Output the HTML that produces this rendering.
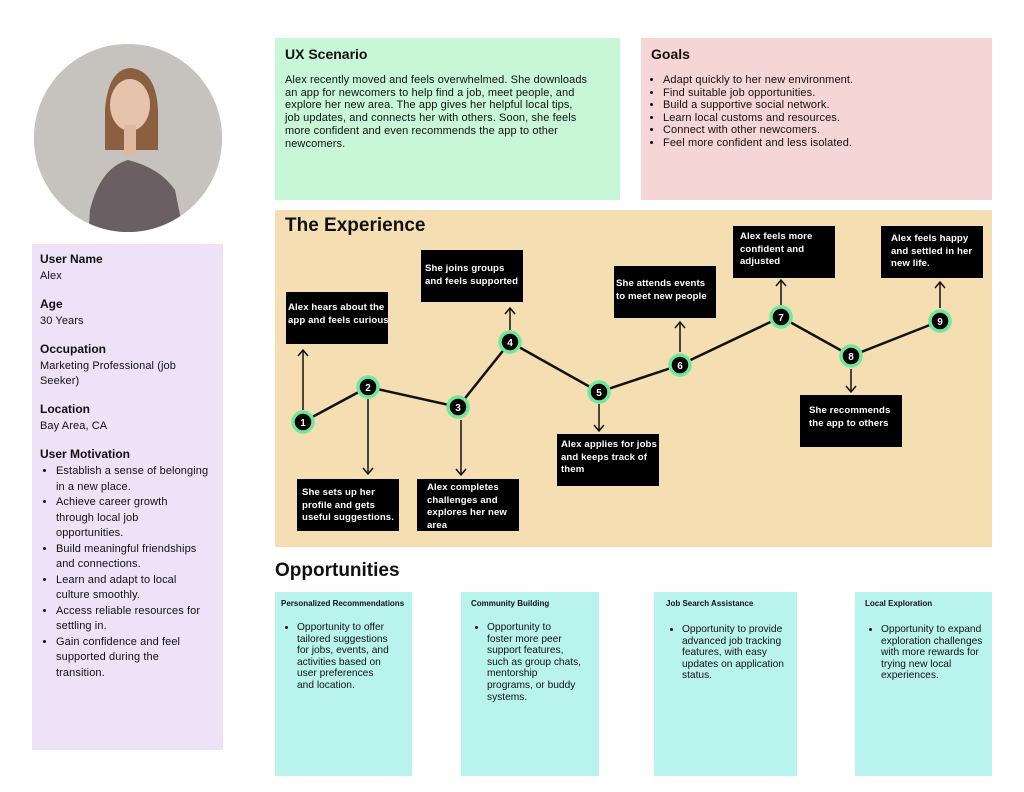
<!DOCTYPE html>
<html><head><meta charset="utf-8"><style>
*{margin:0;padding:0;box-sizing:border-box}
body{width:1024px;height:792px;background:#fff;position:relative;font-family:"Liberation Sans",Arial,sans-serif;color:#111;overflow:hidden}
.a{position:absolute}
.bx{position:absolute;background:#000;color:#fff;font-weight:bold;font-size:9.6px;line-height:12.5px;padding:7px 2px 0 2px;width:102px;height:52px;white-space:nowrap;letter-spacing:0.1px}
h2{font-size:14px;font-weight:bold}
.lp h3{font-size:12px;font-weight:bold}
.lp p{font-size:11px;margin:3px 0 13px 0;line-height:15px;letter-spacing:0.1px}
.lp ul{font-size:11px;line-height:15.5px;padding-left:16px;white-space:nowrap;margin-top:3px;letter-spacing:0.1px}
.op{position:absolute;top:592px;height:184px;background:#b9f3ee;padding:7px 6px}
.op b{font-size:8px;display:block}
.op ul{font-size:10.2px;line-height:11.6px;margin-top:14px;padding-left:16px;white-space:nowrap}
</style></head><body>
<svg class="a" style="left:0;top:0" width="1024" height="792">
<defs><clipPath id="c"><circle cx="128" cy="138" r="94"/></clipPath></defs>
<circle cx="128" cy="138" r="94" fill="#c9c5c0"/>
<g clip-path="url(#c)">
<rect x="30" y="40" width="200" height="200" fill="#c6c2bd"/>
<path d="M90 210 Q100 168 128 160 Q160 168 175 190 L185 240 L88 240Z" fill="#6a5f63"/>
<path d="M105 110 Q108 70 130 68 Q156 70 158 110 L158 150 L105 150Z" fill="#8a6040"/>
<ellipse cx="130" cy="105" rx="20" ry="26" fill="#e7c3ad"/>
<rect x="124" y="125" width="12" height="30" fill="#e0b8a0"/>
</g>
<g stroke="#111" stroke-width="2.5" fill="none">
<polyline points="303,422 368,387 458,407 510,342 599,392 680,365 781,317 851,356 940,321"/>
</g>
<g stroke="#111" stroke-width="1.5" fill="none">
<line x1="303" y1="410" x2="303" y2="351"/><polyline points="298,356 303,350 308,356"/>
<line x1="510" y1="330" x2="510" y2="309"/><polyline points="505,314 510,308 515,314"/>
<line x1="680" y1="352" x2="680" y2="323"/><polyline points="675,328 680,322 685,328"/>
<line x1="781" y1="305" x2="781" y2="281"/><polyline points="776,286 781,280 786,286"/>
<line x1="940" y1="308" x2="940" y2="283"/><polyline points="935,288 940,282 945,288"/>
<line x1="368" y1="399" x2="368" y2="473"/><polyline points="363,468 368,474 373,468"/>
<line x1="461" y1="420" x2="461" y2="474"/><polyline points="456,469 461,475 466,469"/>
<line x1="599" y1="404" x2="599" y2="430"/><polyline points="594,425 599,431 604,425"/>
<line x1="851" y1="369" x2="851" y2="391"/><polyline points="846,386 851,392 856,386"/>
</g>
</svg>
<div class="a lp" style="left:32px;top:244px;width:191px;height:506px;background:#ede2f7;padding:8px 8px">
<h3>User Name</h3><p>Alex</p>
<h3>Age</h3><p>30 Years</p>
<h3>Occupation</h3><p>Marketing Professional (job<br>Seeker)</p>
<h3>Location</h3><p>Bay Area, CA</p>
<h3>User Motivation</h3>
<ul><li>Establish a sense of belonging<br>in a new place.</li><li>Achieve career growth<br>through local job<br>opportunities.</li><li>Build meaningful friendships<br>and connections.</li><li>Learn and adapt to local<br>culture smoothly.</li><li>Access reliable resources for<br>settling in.</li><li>Gain confidence and feel<br>supported during the<br>transition.</li></ul>
</div>
<div class="a" style="left:275px;top:38px;width:345px;height:162px;background:#c8f7d8;padding:8px 10px">
<h2>UX Scenario</h2>
<p style="font-size:11px;line-height:12.7px;margin-top:12px;white-space:nowrap;letter-spacing:0.1px">Alex recently moved and feels overwhelmed. She downloads<br>an app for newcomers to help find a job, meet people, and<br>explore her new area. The app gives her helpful local tips,<br>job updates, and connects her with others. Soon, she feels<br>more confident and even recommends the app to other<br>newcomers.</p>
</div>
<div class="a" style="left:641px;top:38px;width:351px;height:162px;background:#f6d5d5;padding:8px 10px">
<h2>Goals</h2>
<ul style="font-size:11px;line-height:12.6px;margin-top:12px;padding-left:12px;letter-spacing:0.1px"><li>Adapt quickly to her new environment.</li><li>Find suitable job opportunities.</li><li>Build a supportive social network.</li><li>Learn local customs and resources.</li><li>Connect with other newcomers.</li><li>Feel more confident and less isolated.</li></ul>
</div>
<div class="a" style="left:275px;top:210px;width:717px;height:337px;background:#f5deb2;z-index:-1;padding:5px 10px">
<div style="font-size:19px;font-weight:bold">The Experience</div></div>
<div class="bx" style="left:286px;top:292px;padding-top:10px">Alex hears about the<br>app and feels curious</div>
<div class="bx" style="left:421px;top:250px;padding-left:4px;padding-top:13px">She joins groups<br>and feels supported</div>
<div class="bx" style="left:614px;top:266px;padding-top:12px">She attends events<br>to meet new people</div>
<div class="bx" style="left:733px;top:226px;padding-left:7px;padding-top:5px">Alex feels more<br>confident and<br>adjusted</div>
<div class="bx" style="left:881px;top:226px;padding-left:10px;padding-top:7px">Alex feels happy<br>and settled in her<br>new life.</div>
<div class="bx" style="left:297px;top:479px;padding-left:5px;padding-top:8px">She sets up her<br>profile and gets<br>useful suggestions.</div>
<div class="bx" style="left:417px;top:479px;padding-left:10px;padding-top:3px">Alex completes<br>challenges and<br>explores her new<br>area</div>
<div class="bx" style="left:557px;top:434px;padding-left:4px;padding-top:5px">Alex applies for jobs<br>and keeps track of<br>them</div>
<div class="bx" style="left:800px;top:395px;padding-left:9px;padding-top:10px">She recommends<br>the app to others</div>
<svg class="a" style="left:0;top:0" width="1024" height="792">
<g fill="#000" stroke="#6fe89b" stroke-width="3.5">
<circle cx="303" cy="422" r="10"/><circle cx="368" cy="387" r="10"/><circle cx="458" cy="407" r="10"/><circle cx="510" cy="342" r="10"/><circle cx="599" cy="392" r="10"/><circle cx="680" cy="365" r="10"/><circle cx="781" cy="317" r="10"/><circle cx="851" cy="356" r="10"/><circle cx="940" cy="321" r="10"/>
</g>
<g fill="#fff" font-family="Liberation Sans" font-size="10" font-weight="bold" text-anchor="middle">
<text x="303" y="426">1</text><text x="368" y="391">2</text><text x="458" y="411">3</text><text x="510" y="346">4</text><text x="599" y="396">5</text><text x="680" y="369">6</text><text x="781" y="321">7</text><text x="851" y="360">8</text><text x="940" y="325">9</text>
</g></svg>
<div class="a" style="left:275px;top:560px;font-size:19px;font-weight:bold">Opportunities</div>
<div class="op" style="left:275px;width:137px"><b>Personalized Recommendations</b><ul><li>Opportunity to offer<br>tailored suggestions<br>for jobs, events, and<br>activities based on<br>user preferences<br>and location.</li></ul></div>
<div class="op" style="left:461px;width:138px;padding-left:10px"><b>Community Building</b><ul><li>Opportunity to<br>foster more peer<br>support features,<br>such as group chats,<br>mentorship<br>programs, or buddy<br>systems.</li></ul></div>
<div class="op" style="left:654px;width:143px;padding-left:12px"><b>Job Search Assistance</b><ul style="margin-top:16px"><li>Opportunity to provide<br>advanced job tracking<br>features, with easy<br>updates on application<br>status.</li></ul></div>
<div class="op" style="left:855px;width:137px;padding-left:10px"><b>Local Exploration</b><ul style="margin-top:16px"><li>Opportunity to expand<br>exploration challenges<br>with more rewards for<br>trying new local<br>experiences.</li></ul></div>
</body></html>
